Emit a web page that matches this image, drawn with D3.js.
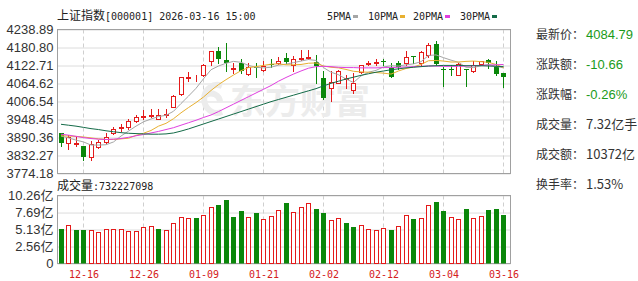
<!DOCTYPE html>
<html lang="zh">
<head>
<meta charset="UTF-8">
<title>上证指数 K线</title>
<style>
    body { margin: 0; background: #fff; }
    svg text { font-family: "Liberation Sans", Arial, "Noto Sans CJK SC", sans-serif; }
    .mono { font-family: "DejaVu Sans Mono", "Liberation Mono", monospace; }
    .cjk { font-family: "Noto Sans CJK SC", sans-serif; }
</style>
</head>
<body>
<svg width="638" height="281"></svg>

<script src="https://d3js.org/d3.v7.min.js"></script>
<script>
    // trading days shown
    var dates = ["12-11", "12-12", "12-15", "12-16", "12-17", "12-18", "12-19", "12-22", "12-23", "12-24",
        "12-25", "12-26", "12-29", "12-30", "12-31", "01-05", "01-06", "01-07", "01-08", "01-09",
        "01-12", "01-13", "01-14", "01-15", "01-16", "01-19", "01-20", "01-21", "01-22", "01-23",
        "01-26", "01-27", "01-28", "01-29", "01-30", "02-02", "02-03", "02-04", "02-05", "02-06",
        "02-09", "02-10", "02-11", "02-12", "02-13", "02-24", "02-25", "02-26", "02-27", "03-02",
        "03-03", "03-04", "03-05", "03-06", "03-09", "03-10", "03-11", "03-12", "03-13", "03-16"];

    var opens = [3903.6, 3871.3, 3868, 3862.5, 3825.9, 3858.3, 3875.5, 3903.6, 3921, 3923,
        3942.5, 3958, 3960, 3950.9, 3962, 3989.7, 4030.8, 4083, 4081, 4091.3,
        4138.6, 4171, 4140.8, 4112, 4130, 4095.5, 4117, 4108.5, 4127, 4131,
        4147, 4125.6, 4143, 4147, 4134.5, 4082.6, 4050.2, 4067.4, 4079, 4043.8,
        4102, 4129, 4130, 4136, 4115, 4130, 4130, 4152, 4132, 4156,
        4192.6, 4110, 4112, 4093.3, 4112.7, 4104, 4128, 4140.8, 4119.2, 4098];
    var highs = [3905, 3898, 3895, 3864, 3879.7, 3882, 3903.6, 3923, 3933.7, 3948.9,
        3961.8, 3979, 3983, 3981.3, 3981, 4026.6, 4086, 4102, 4093.3, 4128,
        4171, 4182, 4196.8, 4130, 4143, 4130, 4132, 4136.6, 4143, 4149.6,
        4164.5, 4153.8, 4173, 4173, 4158, 4106, 4104, 4108, 4093.3, 4097.8,
        4123.7, 4138.6, 4143, 4145, 4130, 4138.6, 4169, 4152.5, 4169, 4195,
        4201.3, 4119.2, 4123.7, 4130, 4112.7, 4136.6, 4138.6, 4145, 4136.6, 4098.5];
    var lows = [3862.6, 3851.9, 3862.6, 3817, 3817, 3857.7, 3871, 3901.4, 3910, 3916.6,
        3940.2, 3948.9, 3957, 3950, 3957, 3987.8, 4028, 4072, 4072, 4089,
        4123.7, 4130, 4106.2, 4097.8, 4098, 4093, 4085, 4106, 4119, 4127.9,
        4132, 4106, 4141, 4145, 4067, 4015, 4007.2, 4065, 4050, 4033.1,
        4098, 4125.6, 4125.6, 4125.6, 4085, 4110.7, 4125.6, 4132, 4125.6, 4149.6,
        4125.6, 4056.7, 4093.3, 4092, 4056.7, 4102, 4125.6, 4115, 4093.3, 4052.5];
    var closes = [3873.2, 3890.7, 3871, 3825.9, 3869, 3875.5, 3892.6, 3916.6, 3925, 3944.4,
        3957.3, 3961, 3964, 3962, 3965, 4024.3, 4084.9, 4086, 4083, 4123.7,
        4169, 4143, 4130, 4115, 4106, 4119.2, 4115, 4121.4, 4125, 4137,
        4134.5, 4143, 4146, 4150, 4121.4, 4017.9, 4069.6, 4104, 4081, 4067.4,
        4123.7, 4131.5, 4133, 4134, 4086.8, 4119, 4151.5, 4150, 4166.7, 4188.4,
        4127.9, 4108.5, 4110, 4127.9, 4110, 4125.6, 4136.6, 4130, 4095.45, 4084.79];

    // moving averages
    var ma5 = [3895, 3889, 3882, 3876, 3866, 3866, 3867, 3876, 3895, 3911,
        3927, 3941, 3950, 3958, 3962, 3975, 4000, 4024, 4049, 4080,
        4109, 4121, 4130, 4136, 4133, 4123, 4117, 4115, 4117, 4124,
        4127, 4132, 4137, 4142, 4139, 4116, 4101, 4093, 4079, 4068,
        4089, 4101, 4107, 4118, 4122, 4121, 4125, 4128, 4135, 4155,
        4157, 4148, 4140, 4133, 4117, 4116, 4122, 4126, 4120, 4115];
    var ma10 = [3896, 3895, 3894, 3892, 3889, 3886, 3884, 3884, 3886, 3888,
        3897, 3904, 3913, 3927, 3936, 3951, 3970, 3987, 4003, 4021,
        4042, 4061, 4077, 4092, 4106, 4116, 4119, 4123, 4127, 4128,
        4125, 4125, 4126, 4130, 4131, 4121, 4117, 4115, 4110, 4104,
        4102, 4101, 4100, 4098, 4095, 4105, 4113, 4118, 4126, 4138,
        4139, 4137, 4134, 4134, 4136, 4137, 4135, 4133, 4126, 4116];
    var ma20 = [3901, 3898, 3894, 3890, 3887, 3885, 3884, 3885, 3887, 3891,
        3896, 3900, 3905, 3910, 3916, 3922, 3930, 3938, 3946, 3955,
        3963, 3974, 3986, 3998, 4010, 4022, 4034, 4046, 4058, 4072,
        4084, 4095, 4105, 4114, 4119, 4120, 4119, 4117, 4116, 4116,
        4115, 4115, 4115, 4116, 4116, 4117, 4118, 4119, 4120, 4121,
        4121, 4120, 4120, 4120, 4121, 4122, 4123, 4124, 4125, 4126];
    var ma30 = [3933, 3930, 3927, 3923, 3919, 3916, 3912, 3909, 3906, 3904,
        3903, 3902, 3901, 3901, 3902, 3905, 3911, 3918, 3926, 3934,
        3942, 3950, 3958, 3966, 3974, 3982, 3990, 3998, 4006, 4013,
        4020, 4027, 4034, 4041, 4048, 4057, 4065, 4072, 4079, 4085,
        4091, 4096, 4101, 4105, 4109, 4112, 4115, 4117, 4119, 4121,
        4122, 4123, 4123, 4123, 4122, 4122, 4122, 4121, 4120, 4119];

    // volume, 亿
    var volumes = [5.28, 5.88, 5.13, 5.13, 5.13, 4.68, 5.23, 5.23, 5.23, 4.83,
        4.83, 5.58, 5.73, 5.23, 4.98, 6.08, 7.09, 6.89, 6.79, 7.39,
        8.60, 8.90, 9.60, 6.98, 7.90, 7.09, 7.60, 6.74, 7.24, 8.00,
        9.10, 7.74, 8.50, 9.20, 8.20, 7.59, 6.49, 6.94, 6.08, 5.58,
        5.88, 5.28, 5.08, 5.38, 5.13, 5.73, 7.39, 6.68, 6.94, 8.80,
        9.35, 7.89, 7.09, 6.64, 8.19, 6.94, 7.24, 8.04, 8.19, 7.32];

    var priceTicks = [4238.89, 4180.80, 4122.71, 4064.62, 4006.54, 3948.45, 3890.36, 3832.27, 3774.18];
    var volTicks = [0, 2.56, 5.13, 7.69, 10.26];
    var dateTicks = ["12-16", "12-26", "01-09", "01-21", "02-02", "02-12", "03-04", "03-16"];

    var maNames = ["5PMA", "10PMA", "20PMA", "30PMA"];
    var maColors = ["#a6a6a6", "#e8b030", "#e040e0", "#146b48"];

    var infoLabels = ["最新价：", "涨跌额：", "涨跌幅：", "成交量：", "成交额：", "换手率："];
    var infoValues = ["4084.79", "-10.66", "-0.26%", "7.32亿手", "10372亿", "1.53%"];

    var red = "#e41a1a", green = "#0a870a";

    var svg = d3.select("svg"),
        left = 57.5, right = 510.5;

    var x = d3.scalePoint().domain(dates).range([61, 503.5]);
    var y = d3.scaleLinear().domain([3774.18, 4238.89]).range([173.5, 29.5]);
    var yv = d3.scaleLinear().domain([0, 10.26]).range([263.5, 195.5]);

    function px(d) { return Math.floor(x(d)) + 0.5; }

    // title
    var title = svg.append("text").attr("x", 57).attr("y", 20).attr("fill", "#222");
    title.append("tspan").attr("class", "cjk").style("font-size", "12px").text("上证指数");
    title.append("tspan").attr("class", "mono").style("font-size", "10px").text("[000001] 2026-03-16 15:00");

    // legend
    var legX = [327, 368, 413, 460];
    maNames.forEach(function (n, i) {
        svg.append("text").attr("class", "mono").attr("x", legX[i]).attr("y", 20)
            .style("font-size", "10px").attr("fill", "#222").text(n);
        var w = n.length * 6;
        svg.append("rect").attr("x", legX[i] + w + 2).attr("y", 15).attr("width", 5).attr("height", 3)
            .attr("fill", maColors[i]);
    });

    // price grid + labels
    var gy = svg.append("g").attr("transform", "translate(" + left + ",0)")
        .call(d3.axisLeft(y).tickValues(priceTicks).tickSize(-(right - left)).tickPadding(4)
            .tickFormat(d3.format(".2f")));
    gy.select(".domain").remove();
    gy.selectAll("line").attr("stroke", "#dcdcdc");
    gy.selectAll("text").style("font-size", "13px").attr("fill", "#333");

    // volume grid + labels
    var gv = svg.append("g").attr("transform", "translate(" + left + ",0)")
        .call(d3.axisLeft(yv).tickValues(volTicks).tickSize(-(right - left)).tickPadding(4)
            .tickFormat(function (d) { return d === 0 ? "0" : d3.format(".2f")(d) + "亿"; }));
    gv.select(".domain").remove();
    gv.selectAll("line").attr("stroke", "#dcdcdc");
    gv.selectAll("text").style("font-size", "13px").attr("fill", "#333");

    // vertical dashed lines
    [[29.5, 173.5], [195.5, 263.5]].forEach(function (r) {
        svg.append("g").selectAll("line").data(dateTicks).enter().append("line")
            .attr("x1", px).attr("x2", px).attr("y1", r[0]).attr("y2", r[1])
            .attr("stroke", "#cfcfcf").attr("stroke-dasharray", "4,3");
    });

    // frames
    svg.append("rect").attr("x", left).attr("y", 29.5).attr("width", right - left).attr("height", 144)
        .attr("fill", "none").attr("stroke", "#a0a0a0");
    svg.append("rect").attr("x", left).attr("y", 195.5).attr("width", right - left).attr("height", 68)
        .attr("fill", "none").attr("stroke", "#a0a0a0");

    // watermark
    svg.append("path").attr("d", "M222,86 A13,14 0 1 0 222,112 M206,95 A9,9 0 0 1 220,102")
        .attr("fill", "none").attr("stroke", "#ececec").attr("stroke-width", 6);
    svg.append("text").attr("class", "cjk").attr("x", 230).attr("y", 114)
        .style("font-size", "35px").style("font-weight", "bold").attr("fill", "#ececec").text("东方财富");

    // candles
    var idx = d3.range(dates.length);
    var cg = svg.append("g");
    cg.selectAll("line").data(idx).enter().append("line")
        .attr("x1", function (i) { return px(dates[i]); })
        .attr("x2", function (i) { return px(dates[i]); })
        .attr("y1", function (i) { return Math.round(y(highs[i])); })
        .attr("y2", function (i) { return Math.round(y(lows[i])) + 1; })
        .attr("stroke", function (i) { return closes[i] >= opens[i] ? red : green; });
    cg.selectAll("rect").data(idx).enter().append("rect")
        .each(function (i) {
            var up = closes[i] >= opens[i],
                top = Math.round(y(Math.max(opens[i], closes[i]))),
                bot = Math.round(y(Math.min(opens[i], closes[i]))),
                cx = Math.floor(x(dates[i]));
            if (up) {
                d3.select(this).attr("x", cx - 1.5).attr("y", top + 0.5).attr("width", 4)
                    .attr("height", Math.max(0, bot - top)).attr("fill", "#fff").attr("stroke", red);
            } else {
                d3.select(this).attr("x", cx - 2).attr("y", top).attr("width", 5)
                    .attr("height", Math.max(1, bot - top)).attr("fill", green);
            }
        });

    // moving averages
    var line = d3.line()
        .x(function (d, i) { return x(dates[i]); })
        .y(function (d) { return y(d); });
    [ma5, ma10, ma20, ma30].forEach(function (s, k) {
        svg.append("path").datum(s).attr("d", line).attr("fill", "none")
            .attr("stroke", maColors[k]).attr("stroke-width", 1);
    });

    // volume bars
    var vg = svg.append("g");
    vg.selectAll("rect").data(idx).enter().append("rect")
        .each(function (i) {
            var up = i === 0 ? closes[i] >= opens[i] : closes[i] >= closes[i - 1],
                top = Math.round(yv(volumes[i])),
                cx = Math.floor(x(dates[i]));
            if (up) {
                d3.select(this).attr("x", cx - 1.5).attr("y", top + 0.5).attr("width", 4)
                    .attr("height", 263 - top).attr("fill", "#fff").attr("stroke", red);
            } else {
                d3.select(this).attr("x", cx - 2).attr("y", top).attr("width", 5)
                    .attr("height", 263.5 - top).attr("fill", green);
            }
        });

    // volume title
    var vt = svg.append("text").attr("x", 57).attr("y", 190).attr("fill", "#222");
    vt.append("tspan").attr("class", "cjk").style("font-size", "12px").text("成交量");
    vt.append("tspan").attr("class", "mono").style("font-size", "10px").text(":732227098");

    // date labels
    var gx = svg.append("g").attr("transform", "translate(0,263.5)")
        .call(d3.axisBottom(x).tickValues(dateTicks).tickSize(0).tickPadding(7));
    gx.select(".domain").remove();
    gx.selectAll("text").attr("class", "mono").style("font-size", "10px").attr("fill", "#d42020");

    // info panel
    var rowY = [34, 64, 94, 124, 154, 184];
    infoLabels.forEach(function (l, i) {
        svg.append("text").attr("class", "cjk").attr("x", 536).attr("y", rowY[i] + 5)
            .style("font-size", "12px").attr("fill", "#333").text(l);
        svg.append("text").attr("class", i >= 3 ? "cjk" : "").attr("x", 586).attr("y", rowY[i] + 5)
            .style("font-size", "13px").attr("fill", i < 3 ? "#1a9b1a" : "#333").text(infoValues[i]);
    });
</script>
</body>
</html>
